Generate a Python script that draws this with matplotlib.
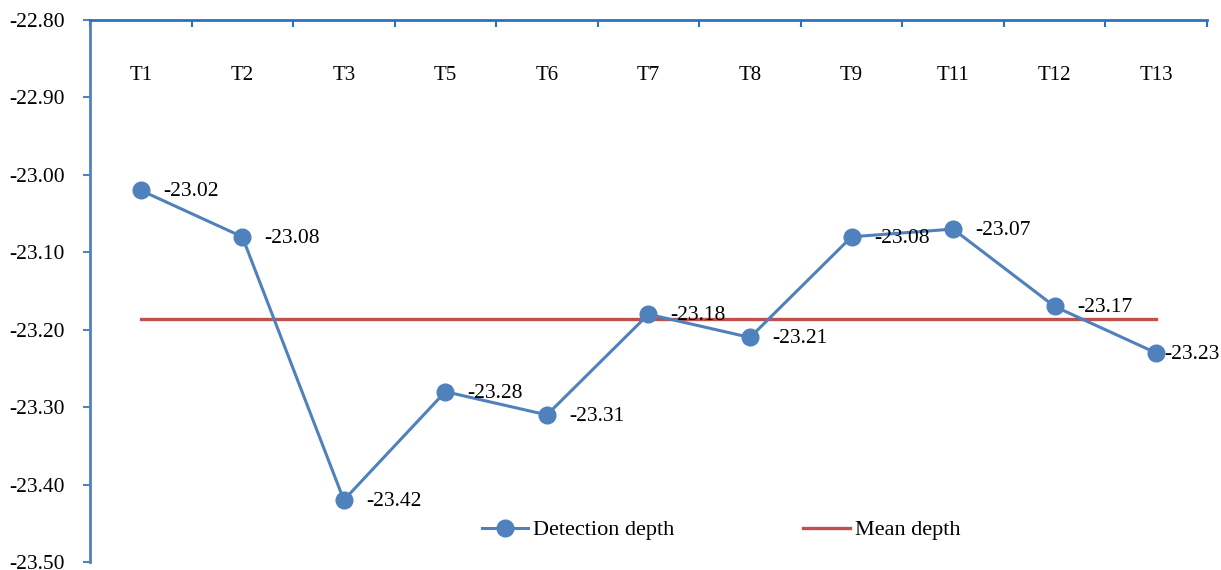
import matplotlib.pyplot as plt
from matplotlib.ticker import FormatStrFormatter

# data
categories = ["T1", "T2", "T3", "T5", "T6", "T7", "T8", "T9", "T11", "T12", "T13"]
detection_depth = [-23.02, -23.08, -23.42, -23.28, -23.31, -23.18, -23.21, -23.08, -23.07, -23.17, -23.23]
mean_depth = -23.186
y_ticks = [-22.8, -22.9, -23.0, -23.1, -23.2, -23.3, -23.4, -23.5]

plt.rcParams['font.family'] = ['Liberation Serif', 'DejaVu Serif']

blue = '#4F81BD'
red = '#C0504D'
axis_blue = '#2A72C0'

fig = plt.figure(figsize=(12.21, 5.70), dpi=100)
ax = fig.add_axes([0.0737, 0.014, 0.9148, 0.9509])

x = list(range(len(categories)))
ax.plot(x, detection_depth, '-o', color=blue, lw=2.2, ms=12, label="Detection depth", zorder=3)
ax.plot([x[0], x[-1]], [mean_depth, mean_depth], color=red, lw=2.4, label="Mean depth", zorder=2)

for xi, yi in zip(x, detection_depth):
    # last label is pushed in so it stays inside the picture
    dx = 6 if xi == x[-1] else 16
    ax.annotate(f"{yi:.2f}", (xi, yi), textcoords="offset points", xytext=(dx, -1),
                ha='left', va='center', fontsize=15.5, zorder=4, annotation_clip=False)

ax.set_xlim(-0.5, len(categories) - 0.5)
ax.set_ylim(-23.5, -22.8)
ax.set_yticks(y_ticks)
ax.yaxis.set_major_formatter(FormatStrFormatter('%.2f'))

# category axis sits at the top
ax.set_xticks([i - 0.5 for i in range(len(categories) + 1)])
ax.set_xticks(x, labels=categories, minor=True)
ax.tick_params(axis='x', which='major', top=True, bottom=False, labeltop=False, labelbottom=False,
               direction='in', length=5, width=1.5, color=axis_blue)
ax.tick_params(axis='x', which='minor', top=True, bottom=False, labeltop=True, labelbottom=False,
               length=0, pad=-47, labelsize=15)
ax.tick_params(axis='y', direction='out', length=5, width=1.5, color=blue, labelsize=15.5, pad=13)

ax.spines['right'].set_visible(False)
ax.spines['bottom'].set_visible(False)
ax.spines['top'].set_color(axis_blue)
ax.spines['top'].set_linewidth(2)
ax.spines['left'].set_color(blue)
ax.spines['left'].set_linewidth(2)

ax.legend(loc='center', bbox_to_anchor=(0.565, 0.059), ncol=2, frameon=False, fontsize=16,
          handlelength=2.1, columnspacing=5.8, handletextpad=0.22)

fig.savefig("out.png", dpi=100)
